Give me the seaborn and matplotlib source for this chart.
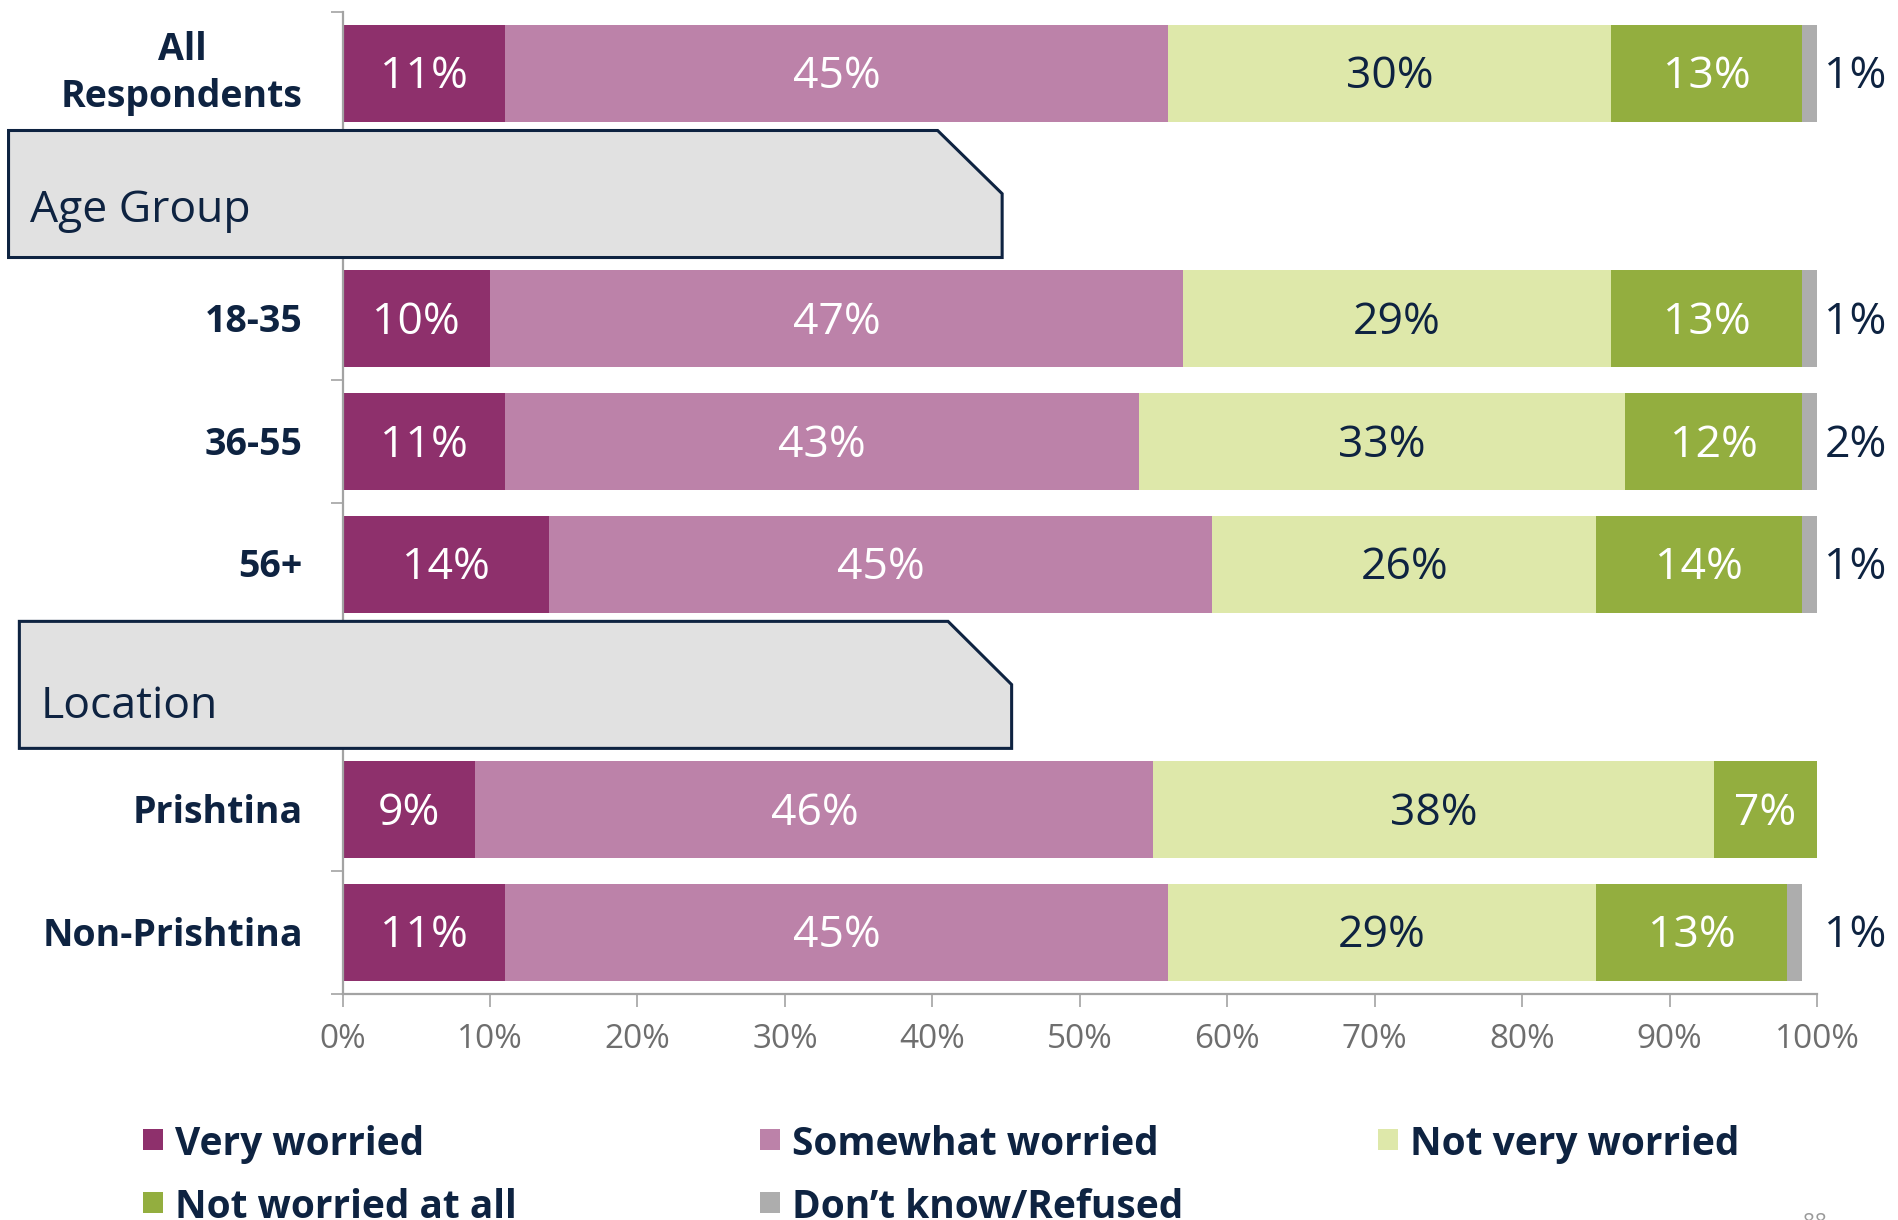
import numpy as np
import pandas as pd
import matplotlib
matplotlib.use("Agg")
import matplotlib.pyplot as plt
import matplotlib.transforms as mtransforms
from matplotlib.patches import Polygon, Rectangle
import seaborn as sns

# ---- data -------------------------------------------------------------
groups = ["All\nRespondents", "18-35", "36-55", "56+", "Prishtina", "Non-Prishtina"]
rows = ["All\nRespondents", "Age Group", "18-35", "36-55", "56+",
        "Location", "Prishtina", "Non-Prishtina"]
section_headers = ["Age Group", "Location"]
series = ["Very worried", "Somewhat worried", "Not very worried",
          "Not worried at all", "Don\u2019t know/Refused"]

very_worried = [11, 10, 11, 14, 9, 11]
somewhat_worried = [45, 47, 43, 45, 46, 45]
not_very_worried = [30, 29, 33, 26, 38, 29]
not_worried_at_all = [13, 13, 12, 14, 7, 13]
dont_know = [1, 1, 2, 1, 0, 1]

x_ticks = [0, 10, 20, 30, 40, 50, 60, 70, 80, 90, 100]
x_tick_labels = ["0%", "10%", "20%", "30%", "40%", "50%",
                 "60%", "70%", "80%", "90%", "100%"]

# ---- style ------------------------------------------------------------
NAVY = "#0E2341"
GRID_GREY = "#A3A3A3"
colors = ["#8E306C", "#BC82A9", "#DEE8AA", "#93AE3F", "#ADADAD"]
label_colors = ["white", "white", NAVY, "white", NAVY]
NUM_FONT = ["Open Sans", "DejaVu Sans"]

sns.set_theme(style="white")
plt.rcParams["font.family"] = ["Open Sans", "DejaVu Sans"]

values = [very_worried, somewhat_worried, not_very_worried,
          not_worried_at_all, dont_know]
df = pd.DataFrame({"group": groups})
for name, vals in zip(series, values):
    df[name] = vals
cum = df[series].cumsum(axis=1)

fig = plt.figure(figsize=(18.98, 12.20), dpi=100)
ax = fig.add_axes([0.1805, 0.1854, 0.7768, 0.8047])

# stacked bars: draw cumulative totals from the outermost segment inwards
for k in range(len(series) - 1, -1, -1):
    layer = pd.DataFrame({"group": groups, "end": cum[series[k]].values})
    sns.barplot(data=layer, x="end", y="group", order=rows, orient="h",
                color=colors[k], saturation=1, width=0.79, errorbar=None,
                edgecolor="none", linewidth=0, ax=ax)

# segment labels
for i, g in enumerate(groups):
    y = rows.index(g) + 0.03
    start = 0
    for k, name in enumerate(series):
        v = df.loc[i, name]
        if v > 0:
            if k == len(series) - 1:
                ax.text(100.5, y, f"{v}%", ha="left", va="center",
                        fontsize=32, color=label_colors[k], family=NUM_FONT,
                        clip_on=False)
            else:
                ax.text(start + v / 2, y, f"{v}%", ha="center", va="center",
                        fontsize=32, color=label_colors[k], family=NUM_FONT)
        start += v

# axes cosmetics
ax.set_xlim(0, 100)
ax.set_ylim(len(rows) - 0.5, -0.5)
ax.set_xlabel("")
ax.set_ylabel("")
for side in ("top", "right"):
    ax.spines[side].set_visible(False)
for side in ("left", "bottom"):
    ax.spines[side].set_color(GRID_GREY)
    ax.spines[side].set_linewidth(1.6)

ax.set_xticks(x_ticks)
ax.set_xticklabels(x_tick_labels, family=NUM_FONT, fontsize=24, color="#6E6E6E")
ax.tick_params(axis="x", which="major", direction="out", length=9, width=1.2,
               color=GRID_GREY, pad=12, bottom=True)

# row labels, right-aligned just left of the axis
ax.set_yticks(range(len(rows)))
ax.set_yticklabels([""] * len(rows))
label_trans = mtransforms.blended_transform_factory(ax.transAxes, ax.transData)
for g in groups:
    s = rows.index(g)
    multi = "\n" in g
    ax.text(-0.0269, s + (0.0 if multi else 0.025), g, transform=label_trans,
            ha="right", va="center", multialignment="center",
            linespacing=1.3, fontsize=27, fontweight="bold", color=NAVY,
            clip_on=False)
ax.set_yticks(np.arange(-0.5, len(rows), 1.0), minor=True)
ax.tick_params(axis="y", which="major", length=0, left=False)
ax.tick_params(axis="y", which="minor", direction="out", length=9, width=1.2,
               color=GRID_GREY, left=True)

# section header tabs (x in figure fraction, y in row units)
blend = mtransforms.blended_transform_factory(fig.transFigure, ax.transData)
header_layout = {
    # left edge, start of bevel, right edge, text x, text y offset
    "Age Group": (0.0045, 0.494, 0.528, 0.0158, 0.12),
    "Location": (0.0102, 0.4995, 0.533, 0.0216, 0.16),
}
for h in section_headers:
    s = rows.index(h)
    x0, xb, x1, xt, yt = header_layout[h]
    top, bot = s - 0.535, s + 0.50
    verts = [(x0, bot), (x0, top), (xb, top), (x1, s - 0.02), (x1, bot)]
    ax.add_patch(Polygon(verts, closed=True, facecolor="#E1E1E1",
                         edgecolor=NAVY, linewidth=2.2, transform=blend,
                         clip_on=False, zorder=6))
    ax.text(xt, s + yt, h, transform=blend, ha="left", va="center",
            fontsize=32, color=NAVY, zorder=7, clip_on=False)

# legend laid out in rows of three
W, H = 1898.0, 1220.0
col_x = [143, 760, 1378]
row_y = [1139.5, 1202.5]
for idx, (name, c) in enumerate(zip(series, colors)):
    r, cidx = divmod(idx, 3)
    xl, yc = col_x[cidx], row_y[r]
    fig.add_artist(Rectangle((xl / W, 1 - (yc + 10.5) / H), 20 / W, 21 / H,
                             transform=fig.transFigure, facecolor=c,
                             edgecolor="none"))
    fig.text((xl + 32) / W, 1 - (yc + 15.5) / H, name, ha="left",
             va="baseline", fontsize=28, fontweight="bold", color=NAVY)

# page number at the foot of the slide
fig.text(1815 / W, 1 - 1213 / H, "88", ha="center", va="top",
         fontsize=15, color="#9A9A9A")

fig.savefig("out.png", dpi=100)
